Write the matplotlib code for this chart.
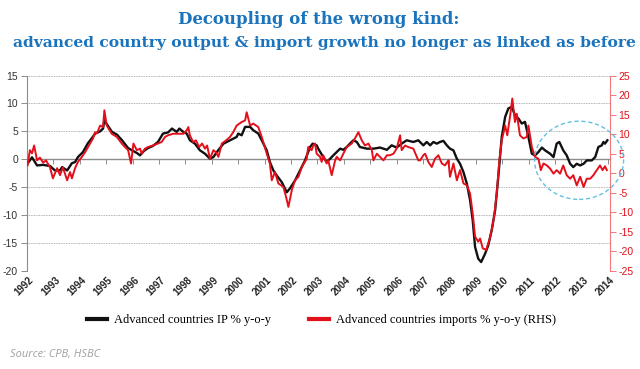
import matplotlib
matplotlib.use("Agg")
import matplotlib.pyplot as plt
from matplotlib.patches import Ellipse
from matplotlib.lines import Line2D

# ---------------- data ----------------
title_line1 = "Decoupling of the wrong kind:"
title_line2 = "advanced country output & import growth no longer as linked as before"
series_labels = ["Advanced countries IP % y-o-y",
                 "Advanced countries imports % y-o-y (RHS)"]
source_text = "Source: CPB, HSBC"
years = list(range(1992, 2015))
left_ticks = [15, 10, 5, 0, -5, -10, -15, -20]
right_ticks = [25, 20, 15, 10, 5, 0, -5, -10, -15, -20, -25]

ip_year = [1992.03, 1992.19, 1992.38, 1992.61, 1992.87, 1993.06, 1993.25, 1993.33, 1993.52, 1993.70,
           1993.82, 1993.93, 1994.12, 1994.31, 1994.46, 1994.58, 1994.77, 1994.88, 1994.93, 1995.02,
           1995.22, 1995.41, 1995.60, 1995.83, 1995.98, 1996.17, 1996.28, 1996.43, 1996.58, 1996.77,
           1996.96, 1997.15, 1997.34, 1997.49, 1997.67, 1997.77, 1997.92, 1998.05, 1998.17, 1998.36,
           1998.55, 1998.74, 1998.93, 1999.06, 1999.19, 1999.44, 1999.69, 1999.94, 2000.00, 2000.13,
           2000.26, 2000.45, 2000.57, 2000.76, 2000.89, 2001.08, 2001.20, 2001.33, 2001.46, 2001.65,
           2001.84, 2001.96, 2002.15, 2002.34, 2002.53, 2002.72, 2002.82, 2002.97, 2003.03, 2003.22,
           2003.35, 2003.48, 2003.60, 2003.73, 2003.86, 2003.98, 2004.11, 2004.23, 2004.36, 2004.49,
           2004.61, 2004.87, 2005.12, 2005.37, 2005.63, 2005.81, 2006.00, 2006.19, 2006.38, 2006.63,
           2006.82, 2007.01, 2007.14, 2007.27, 2007.39, 2007.52, 2007.64, 2007.77, 2007.90, 2008.02,
           2008.15, 2008.28, 2008.40, 2008.53, 2008.66, 2008.78, 2008.88, 2008.97, 2009.09, 2009.20,
           2009.35, 2009.47, 2009.60, 2009.73, 2009.85, 2009.98, 2010.11, 2010.23, 2010.36, 2010.48,
           2010.61, 2010.74, 2010.86, 2010.99, 2011.12, 2011.24, 2011.37, 2011.50, 2011.62, 2011.81,
           2011.94, 2012.06, 2012.16, 2012.31, 2012.44, 2012.57, 2012.69, 2012.82, 2012.95, 2013.08,
           2013.20, 2013.39, 2013.52, 2013.64, 2013.77, 2013.83, 2013.89, 2013.98]
ip_val = [-0.7, 0.35, -1.1, -1.0, -1.2, -2.0, -2.0, -1.4, -2.0, -0.7,
          -0.5, 0.4, 1.3, 2.9, 3.8, 4.6, 5.0, 5.5, 7.0, 6.3,
          4.9, 4.4, 3.4, 2.0, 1.6, 1.1, 0.7, 1.5, 2.0, 2.4,
          3.1, 4.6, 4.8, 5.5, 4.9, 5.5, 4.9, 4.6, 3.4, 2.8,
          1.6, 1.0, 0.1, 0.4, 1.3, 2.8, 3.4, 4.0, 4.6, 4.3,
          5.8, 5.8, 5.2, 4.6, 3.4, 1.6, -0.5, -2.0, -2.9, -4.1,
          -5.9, -5.2, -3.8, -2.0, -0.2, 2.2, 2.8, 2.5, 1.9, 0.4,
          -0.5, 0.1, 0.7, 1.3, 1.9, 1.7, 2.2, 2.8, 3.4, 3.1,
          2.2, 1.9, 1.9, 2.1, 1.7, 2.5, 2.1, 2.8, 3.4, 3.1,
          3.4, 2.5, 3.1, 2.5, 3.1, 2.8, 3.1, 3.3, 2.5, 1.9,
          1.6, 0.1, -0.8, -2.3, -4.4, -7.3, -10.9, -15.7, -17.8, -18.4,
          -16.9, -15.4, -12.7, -9.1, -3.1, 4.0, 7.6, 9.1, 9.4, 7.9,
          7.3, 6.4, 6.7, 4.0, 1.0, 0.7, 1.3, 2.1, 1.6, 1.0,
          0.4, 2.8, 3.1, 1.6, 0.7, -0.8, -1.4, -0.8, -1.1, -0.8,
          -0.2, -0.2, 0.4, 2.2, 2.5, 3.1, 2.8, 3.4]

imp_year = [1992.02, 1992.11, 1992.19, 1992.27, 1992.38, 1992.49, 1992.61, 1992.72, 1992.87, 1992.98,
            1993.14, 1993.25, 1993.36, 1993.52, 1993.63, 1993.70, 1993.82, 1993.93, 1994.08, 1994.20,
            1994.39, 1994.50, 1994.58, 1994.65, 1994.77, 1994.88, 1994.93, 1995.02, 1995.21, 1995.40,
            1995.59, 1995.71, 1995.83, 1995.94, 1996.03, 1996.16, 1996.28, 1996.34, 1996.47, 1996.58,
            1996.77, 1996.96, 1997.10, 1997.23, 1997.34, 1997.53, 1997.64, 1997.76, 1997.92, 1998.05,
            1998.11, 1998.17, 1998.29, 1998.40, 1998.52, 1998.63, 1998.74, 1998.82, 1998.93, 1999.06,
            1999.16, 1999.25, 1999.38, 1999.54, 1999.69, 1999.81, 1999.94, 2000.13, 2000.26, 2000.32,
            2000.45, 2000.57, 2000.76, 2000.89, 2001.08, 2001.20, 2001.27, 2001.39, 2001.52, 2001.71,
            2001.81, 2001.90, 2002.03, 2002.15, 2002.28, 2002.41, 2002.59, 2002.65, 2002.78, 2002.84,
            2002.91, 2002.97, 2003.10, 2003.16, 2003.22, 2003.35, 2003.41, 2003.54, 2003.67, 2003.73,
            2003.86, 2003.98, 2004.11, 2004.30, 2004.42, 2004.55, 2004.68, 2004.80, 2004.93, 2005.06,
            2005.12, 2005.25, 2005.37, 2005.50, 2005.63, 2005.75, 2005.88, 2006.00, 2006.13, 2006.19,
            2006.32, 2006.44, 2006.63, 2006.82, 2006.89, 2007.01, 2007.08, 2007.20, 2007.33, 2007.45,
            2007.58, 2007.71, 2007.83, 2007.96, 2008.02, 2008.15, 2008.28, 2008.40, 2008.53, 2008.66,
            2008.78, 2008.88, 2008.97, 2009.09, 2009.16, 2009.26, 2009.39, 2009.51, 2009.60, 2009.69,
            2009.79, 2009.89, 2009.98, 2010.11, 2010.19, 2010.30, 2010.38, 2010.48, 2010.55, 2010.67,
            2010.80, 2010.93, 2010.99, 2011.12, 2011.24, 2011.37, 2011.46, 2011.56, 2011.69, 2011.81,
            2011.94, 2012.06, 2012.19, 2012.31, 2012.44, 2012.57, 2012.69, 2012.82, 2012.95, 2013.08,
            2013.20, 2013.33, 2013.45, 2013.58, 2013.70, 2013.80, 2013.89, 2013.96]
imp_val = [2.0, 5.9, 5.1, 7.1, 3.3, 4.0, 2.7, 3.3, 1.5, -1.3,
           1.3, -0.5, 1.5, -1.8, 0.3, -1.3, 1.3, 2.9, 4.2, 5.4,
           7.6, 8.9, 10.5, 10.2, 12.2, 11.8, 16.1, 12.2, 10.1, 9.3,
           7.6, 6.7, 5.9, 2.5, 7.6, 5.9, 6.3, 5.0, 6.3, 6.7,
           7.1, 7.6, 8.0, 9.3, 9.7, 10.1, 10.1, 10.1, 10.1, 11.0,
           11.8, 9.7, 8.0, 8.4, 6.7, 7.6, 6.3, 7.1, 3.7, 5.9,
           5.3, 4.2, 7.6, 8.4, 9.3, 10.5, 12.2, 13.1, 13.5, 15.6,
           12.2, 12.7, 11.8, 9.3, 5.0, 2.5, -1.8, 0.3, -2.6, -3.5,
           -6.0, -8.6, -4.3, -1.8, -0.9, 1.6, 3.7, 6.7, 5.9, 7.1,
           7.6, 5.0, 4.2, 2.9, 4.6, 2.5, 3.3, -0.5, 3.3, 4.2,
           3.3, 5.0, 6.7, 7.6, 8.9, 10.5, 8.4, 7.1, 7.6, 5.9,
           3.3, 5.0, 4.2, 3.3, 4.6, 4.6, 5.0, 6.3, 9.7, 5.9,
           7.1, 6.7, 6.3, 3.3, 3.3, 4.6, 5.0, 2.9, 1.6, 3.7,
           4.6, 2.5, 2.0, 3.3, -0.9, 2.5, -1.8, 0.8, -2.6, -3.1,
           -5.2, -10.3, -16.2, -17.5, -16.7, -19.2, -19.6, -17.1, -14.5, -11.1,
           -5.2, 3.3, 8.4, 12.2, 9.7, 14.8, 19.1, 13.1, 15.2, 9.7,
           8.9, 9.3, 12.2, 6.7, 4.2, 3.7, 0.8, 2.5, 2.0, 1.2,
           -0.1, 0.8, -0.1, 2.0, -0.5, -1.4, -0.5, -3.1, -0.9, -3.5,
           -1.4, -1.4, -0.5, 0.8, 2.0, 0.8, 1.8, 0.8]

# ---------------- styling ----------------
W, H, DPI = 640, 369, 100
BLUE = "#1a73bd"
RED = "#e3101b"
GREY = "#8c8c8c"
SANS = ["Liberation Sans", "DejaVu Sans"]

fig = plt.figure(figsize=(W / DPI, H / DPI), dpi=DPI)
fig.patch.set_facecolor("white")

# axes box in pixels: left 27, right 610, top 75.5, bottom 271
ax = fig.add_axes([27 / W, (H - 271) / H, 583 / W, 195.5 / H])
ax.set_xlim(1992, 2014.08)
ax.set_ylim(-20, 15)
ax.set_yticks(left_ticks)
ax.set_yticklabels([str(v) for v in left_ticks], family=SANS, fontsize=7.5, color="#333333")
ax.tick_params(axis="y", direction="out", length=4.5, width=0.7, color=GREY, pad=2)
ax.yaxis.grid(True, linestyle=(0, (1, 1)), color="#9a9a9a", linewidth=0.6)
ax.set_axisbelow(True)

for s in ("top", "right"):
    ax.spines[s].set_visible(False)
ax.spines["left"].set_color(GREY)
ax.spines["left"].set_linewidth(0.8)
ax.spines["bottom"].set_position(("data", 0))
ax.spines["bottom"].set_color(GREY)
ax.spines["bottom"].set_linewidth(1.0)
ax.set_xticks(years)
ax.tick_params(axis="x", direction="out", length=3.5, width=0.7, color=GREY, labelbottom=False)

# year labels below the plot, rotated 45 degrees
for yr in years:
    ax.annotate(str(yr), xy=(yr, 0), xycoords=("data", "axes fraction"),
                xytext=(-2.0, -11.0), textcoords="offset points",
                rotation=45, ha="center", va="center", rotation_mode="anchor",
                family=SANS, fontsize=7, fontweight="bold", color="#222222",
                annotation_clip=False)

ax.plot(ip_year, ip_val, color="#111111", linewidth=1.7, solid_joinstyle="round", zorder=3)

ax2 = ax.twinx()
ax2.set_ylim(-25, 25)
ax2.set_yticks(right_ticks)
ax2.set_yticklabels([str(v) for v in right_ticks], family=SANS, fontsize=7.5, color=RED)
ax2.tick_params(axis="y", direction="out", length=4, width=0.7, color="#f07a7a", pad=2)
for s in ("top", "left", "bottom"):
    ax2.spines[s].set_visible(False)
ax2.spines["right"].set_color("#f07a7a")
ax2.spines["right"].set_linewidth(0.8)
ax2.plot(imp_year, imp_val, color=RED, linewidth=1.4, solid_joinstyle="round", zorder=3)

# dashed highlight ellipse around the recent divergence
ell = Ellipse((2012.91, -0.18), width=3.37, height=14.0, transform=ax.transData,
              fill=False, edgecolor="#62c0e2", linewidth=1.0, linestyle=(0, (3, 2)),
              clip_on=False, zorder=5)
ax2.add_patch(ell)


def fit(txt, target_px):
    fig.canvas.draw()
    w = txt.get_window_extent(renderer=fig.canvas.get_renderer()).width
    txt.set_fontsize(txt.get_fontsize() * target_px / w)


t1 = fig.text(319 / W, 1 - 20 / H, title_line1, ha="center", va="center",
              family="DejaVu Serif", fontweight="heavy",
              fontsize=13, color=BLUE)
t2 = fig.text(324 / W, 1 - 42.5 / H, title_line2, ha="center", va="center",
              family="DejaVu Serif", fontweight="heavy",
              fontsize=13, color=BLUE)
fit(t1, 282)
fit(t2, 622)

# legend
handles = [Line2D([], [], color="#111111", linewidth=3),
           Line2D([], [], color=RED, linewidth=3)]
leg = fig.legend(handles, series_labels, loc="center", bbox_to_anchor=(321.5 / W, 1 - 320 / H),
                 ncol=2, frameon=False, handlelength=1.6, handletextpad=0.6,
                 columnspacing=3.0, prop={"family": "Liberation Serif", "size": 9})

fig.text(10 / W, 1 - 355 / H, source_text, ha="left", va="center",
         family=["Open Sans", "DejaVu Sans"], style="italic", fontsize=8, color="#a0a0a0")

fig.savefig("out.png", dpi=DPI, facecolor="white")
